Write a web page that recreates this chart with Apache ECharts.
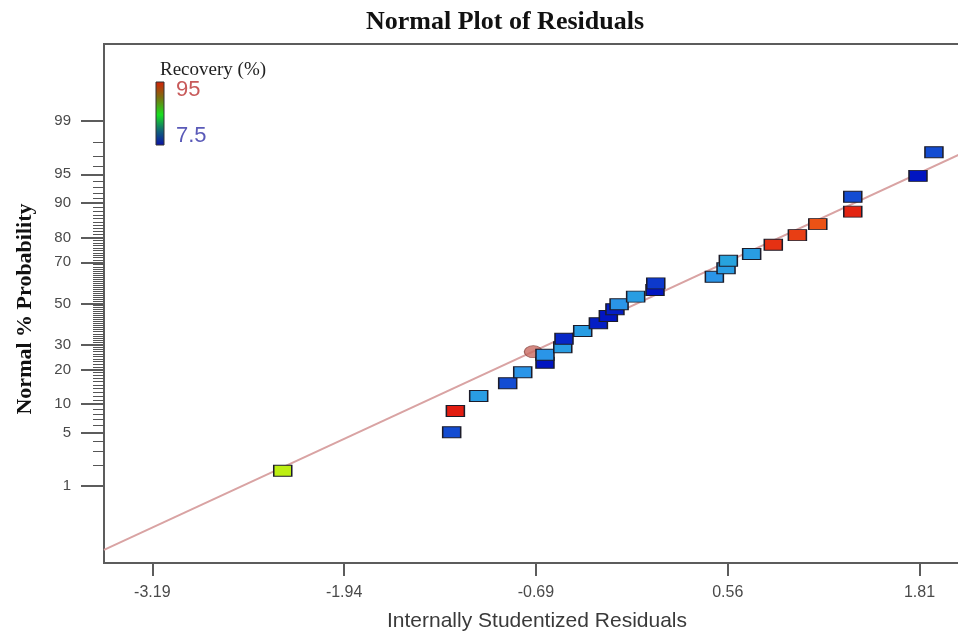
<!DOCTYPE html>
<html>
<head>
<meta charset="utf-8">
<script src="https://cdn.jsdelivr.net/npm/echarts@6/dist/echarts.min.js"></script>
<style>
  html, body { margin: 0; padding: 0; background: #ffffff; }
  #chart { width: 958px; height: 633px; }
</style>
</head>
<body>
<div id="chart"></div>
<script>
// Internally studentized residuals, sorted, with their normal probability (%)
const residuals = [-2.340, -1.239, -1.215, -1.063, -0.874, -0.776, -0.631, -0.631,
  -0.515, -0.507, -0.385, -0.283, -0.218, -0.175, -0.148, -0.040, 0.086, 0.091,
  0.473, 0.549, 0.564, 0.716, 0.857, 1.014, 1.147, 1.375, 1.375, 1.800, 1.904];
const probabilities = [1.66, 5.05, 8.55, 11.94, 15.48, 19.05, 22.55, 25.72,
  28.85, 32.7, 36.3, 40.05, 43.7, 47.1, 49.6, 53.5, 56.8, 60.1,
  63.3, 67.3, 70.7, 73.6, 77.3, 80.8, 84.4, 87.9, 91.3, 94.8, 97.3];
// Recovery (%) of each run, used for the colour scale
const recovery = [66, 14, 93, 24, 14, 22, 8, 22,
  24, 10, 24, 9, 8, 9, 22, 24, 8, 12,
  22, 24, 26, 24, 90, 88, 85, 92, 14, 8, 14];

// Highlighted run
const flaggedResidual = [-0.707];
const flaggedProbability = [26.97];

// Reference normal line (two end points)
const fitResidual = [-3.505, 2.139];
const fitProbability = [0.085, 97.5];

// Axis ticks
const xTicks = [-3.19, -1.94, -0.69, 0.56, 1.81];
const probMajor = [1, 5, 10, 20, 30, 50, 70, 80, 90, 95, 99];
const probMinor = [];
for (let p = 1; p <= 99; p++) if (probMajor.indexOf(p) < 0) probMinor.push(p);

const recoveryRange = [7.5, 95];

// Inverse standard normal CDF (Acklam)
function probit(p) {
  const a = [-3.969683028665376e+01, 2.209460984245205e+02, -2.759285104469687e+02, 1.383577518672690e+02, -3.066479806614716e+01, 2.506628277459239e+00];
  const b = [-5.447609879822406e+01, 1.615858368580409e+02, -1.556989798598866e+02, 6.680131188771972e+01, -1.328068155288572e+01];
  const c = [-7.784894002430293e-03, -3.223964580411365e-01, -2.400758277161838e+00, -2.549732539343734e+00, 4.374664141464968e+00, 2.938163982698783e+00];
  const d = [7.784695709041462e-03, 3.224671290700398e-01, 2.445134137142996e+00, 3.754408661907416e+00];
  const pl = 0.02425, ph = 1 - pl;
  let q, r;
  if (p < pl) {
    q = Math.sqrt(-2 * Math.log(p));
    return (((((c[0]*q+c[1])*q+c[2])*q+c[3])*q+c[4])*q+c[5]) / ((((d[0]*q+d[1])*q+d[2])*q+d[3])*q+1);
  }
  if (p > ph) {
    q = Math.sqrt(-2 * Math.log(1 - p));
    return -(((((c[0]*q+c[1])*q+c[2])*q+c[3])*q+c[4])*q+c[5]) / ((((d[0]*q+d[1])*q+d[2])*q+d[3])*q+1);
  }
  q = p - 0.5; r = q * q;
  return (((((a[0]*r+a[1])*r+a[2])*r+a[3])*r+a[4])*r+a[5])*q / (((((b[0]*r+b[1])*r+b[2])*r+b[3])*r+b[4])*r+1);
}
const z = pct => probit(pct / 100);

const zLimit = 3.305;
const majorZ = probMajor.map(z);
const minorZ = probMinor.map(z);

const pointData = residuals.map((r, i) => [r, z(probabilities[i]), recovery[i]]);
const flaggedData = flaggedResidual.map((r, i) => [r, z(flaggedProbability[i])]);
const fitData = fitResidual.map((r, i) => [r, z(fitProbability[i])]);

const chart = echarts.init(document.getElementById('chart'), null, { renderer: 'canvas' });

const serif = '"Liberation Serif", "Times New Roman", serif';
const sans = '"Liberation Sans", Arial, sans-serif';

chart.setOption({
  backgroundColor: '#ffffff',
  animation: false,
  grid: {
    left: 104, top: 44, right: -12, bottom: 70,
    outerBoundsMode: 'none',
    show: true, borderColor: '#5c5c5c', borderWidth: 2, backgroundColor: 'transparent'
  },
  xAxis: {
    type: 'value',
    min: fitResidual[0], max: fitResidual[1],
    name: 'Internally Studentized Residuals',
    nameLocation: 'middle',
    nameGap: 48,
    nameTextStyle: { fontFamily: sans, fontSize: 21, color: '#3a3a3a' },
    axisLine: { show: true, onZero: false, lineStyle: { color: '#5c5c5c', width: 2 } },
    axisTick: { show: true, inside: false, length: 13, customValues: xTicks, lineStyle: { color: '#5c5c5c', width: 2 } },
    axisLabel: {
      customValues: xTicks, margin: 22,
      fontFamily: sans, fontSize: 16, color: '#4a4a4a',
      formatter: v => v.toFixed(2)
    },
    splitLine: { show: false }
  },
  yAxis: [
    {
      type: 'value', min: -zLimit, max: zLimit, position: 'left',
      name: 'Normal % Probability',
      nameLocation: 'middle', nameRotate: 90, nameGap: 68,
      nameTextStyle: { fontFamily: serif, fontSize: 22, fontWeight: 'bold', color: '#111', padding: [0, 11, 0, 0] },
      axisLine: { show: true, onZero: false, lineStyle: { color: '#5c5c5c', width: 2 } },
      axisTick: { show: true, inside: false, length: 23, customValues: majorZ, lineStyle: { color: '#5c5c5c', width: 2 } },
      axisLabel: {
        customValues: majorZ, margin: 33,
        fontFamily: sans, fontSize: 15, color: '#4a4a4a',
        formatter: v => {
          let best = probMajor[0], bd = Infinity;
          probMajor.forEach(p => { const dd = Math.abs(z(p) - v); if (dd < bd) { bd = dd; best = p; } });
          return String(best);
        }
      },
      splitLine: { show: false }
    },
    {
      type: 'value', min: -zLimit, max: zLimit, position: 'left', offset: 0,
      axisLine: { show: false, onZero: false },
      axisTick: { show: true, inside: false, length: 11, customValues: minorZ, lineStyle: { color: '#555', width: 1 } },
      axisLabel: { show: false },
      splitLine: { show: false }
    }
  ],
  visualMap: {
    type: 'continuous', show: false, seriesIndex: 2, dimension: 2,
    min: recoveryRange[0], max: recoveryRange[1],
    inRange: { color: ['#0010c0', '#2a96e8', '#20c8c0', '#20e020', '#bcf012', '#f07018', '#e01010'] }
  },
  series: [
    {
      type: 'line', data: fitData, showSymbol: false, silent: true, z: 1,
      lineStyle: { color: '#d9a3a3', width: 2 }
    },
    {
      type: 'scatter', data: flaggedData, symbol: 'circle', symbolSize: [18, 12], z: 2,
      itemStyle: { color: '#c86a62', borderColor: '#8c4a44', borderWidth: 1 }
    },
    {
      type: 'scatter', data: pointData, symbol: 'rect', symbolSize: [18, 11], z: 3,
      itemStyle: { borderColor: '#1c1c2a', borderWidth: 1.2, opacity: 1 }
    }
  ],
  graphic: [
    {
      type: 'text', x: 505, y: 22,
      style: { text: 'Normal Plot of Residuals', font: 'bold 26px ' + serif, fill: '#111', textAlign: 'center', textVerticalAlign: 'middle' }
    },
    {
      type: 'text', x: 160, y: 70,
      style: { text: 'Recovery (%)', font: '19px ' + serif, fill: '#222', textAlign: 'left', textVerticalAlign: 'middle' }
    },
    {
      type: 'rect', shape: { x: 156, y: 82, width: 8, height: 63 },
      style: {
        fill: new echarts.graphic.LinearGradient(0, 0, 0, 1, [
          { offset: 0, color: '#d42008' },
          { offset: 0.25, color: '#7a7010' },
          { offset: 0.52, color: '#18e020' },
          { offset: 0.78, color: '#10607a' },
          { offset: 1, color: '#0a10a8' }
        ]),
        stroke: '#333', lineWidth: 1
      }
    },
    {
      type: 'text', x: 176, y: 90,
      style: { text: '95', font: '22px ' + sans, fill: '#c85a5a', textAlign: 'left', textVerticalAlign: 'middle' }
    },
    {
      type: 'text', x: 176, y: 136,
      style: { text: '7.5', font: '22px ' + sans, fill: '#5a5ab8', textAlign: 'left', textVerticalAlign: 'middle' }
    }
  ]
});
</script>
</body>
</html>
